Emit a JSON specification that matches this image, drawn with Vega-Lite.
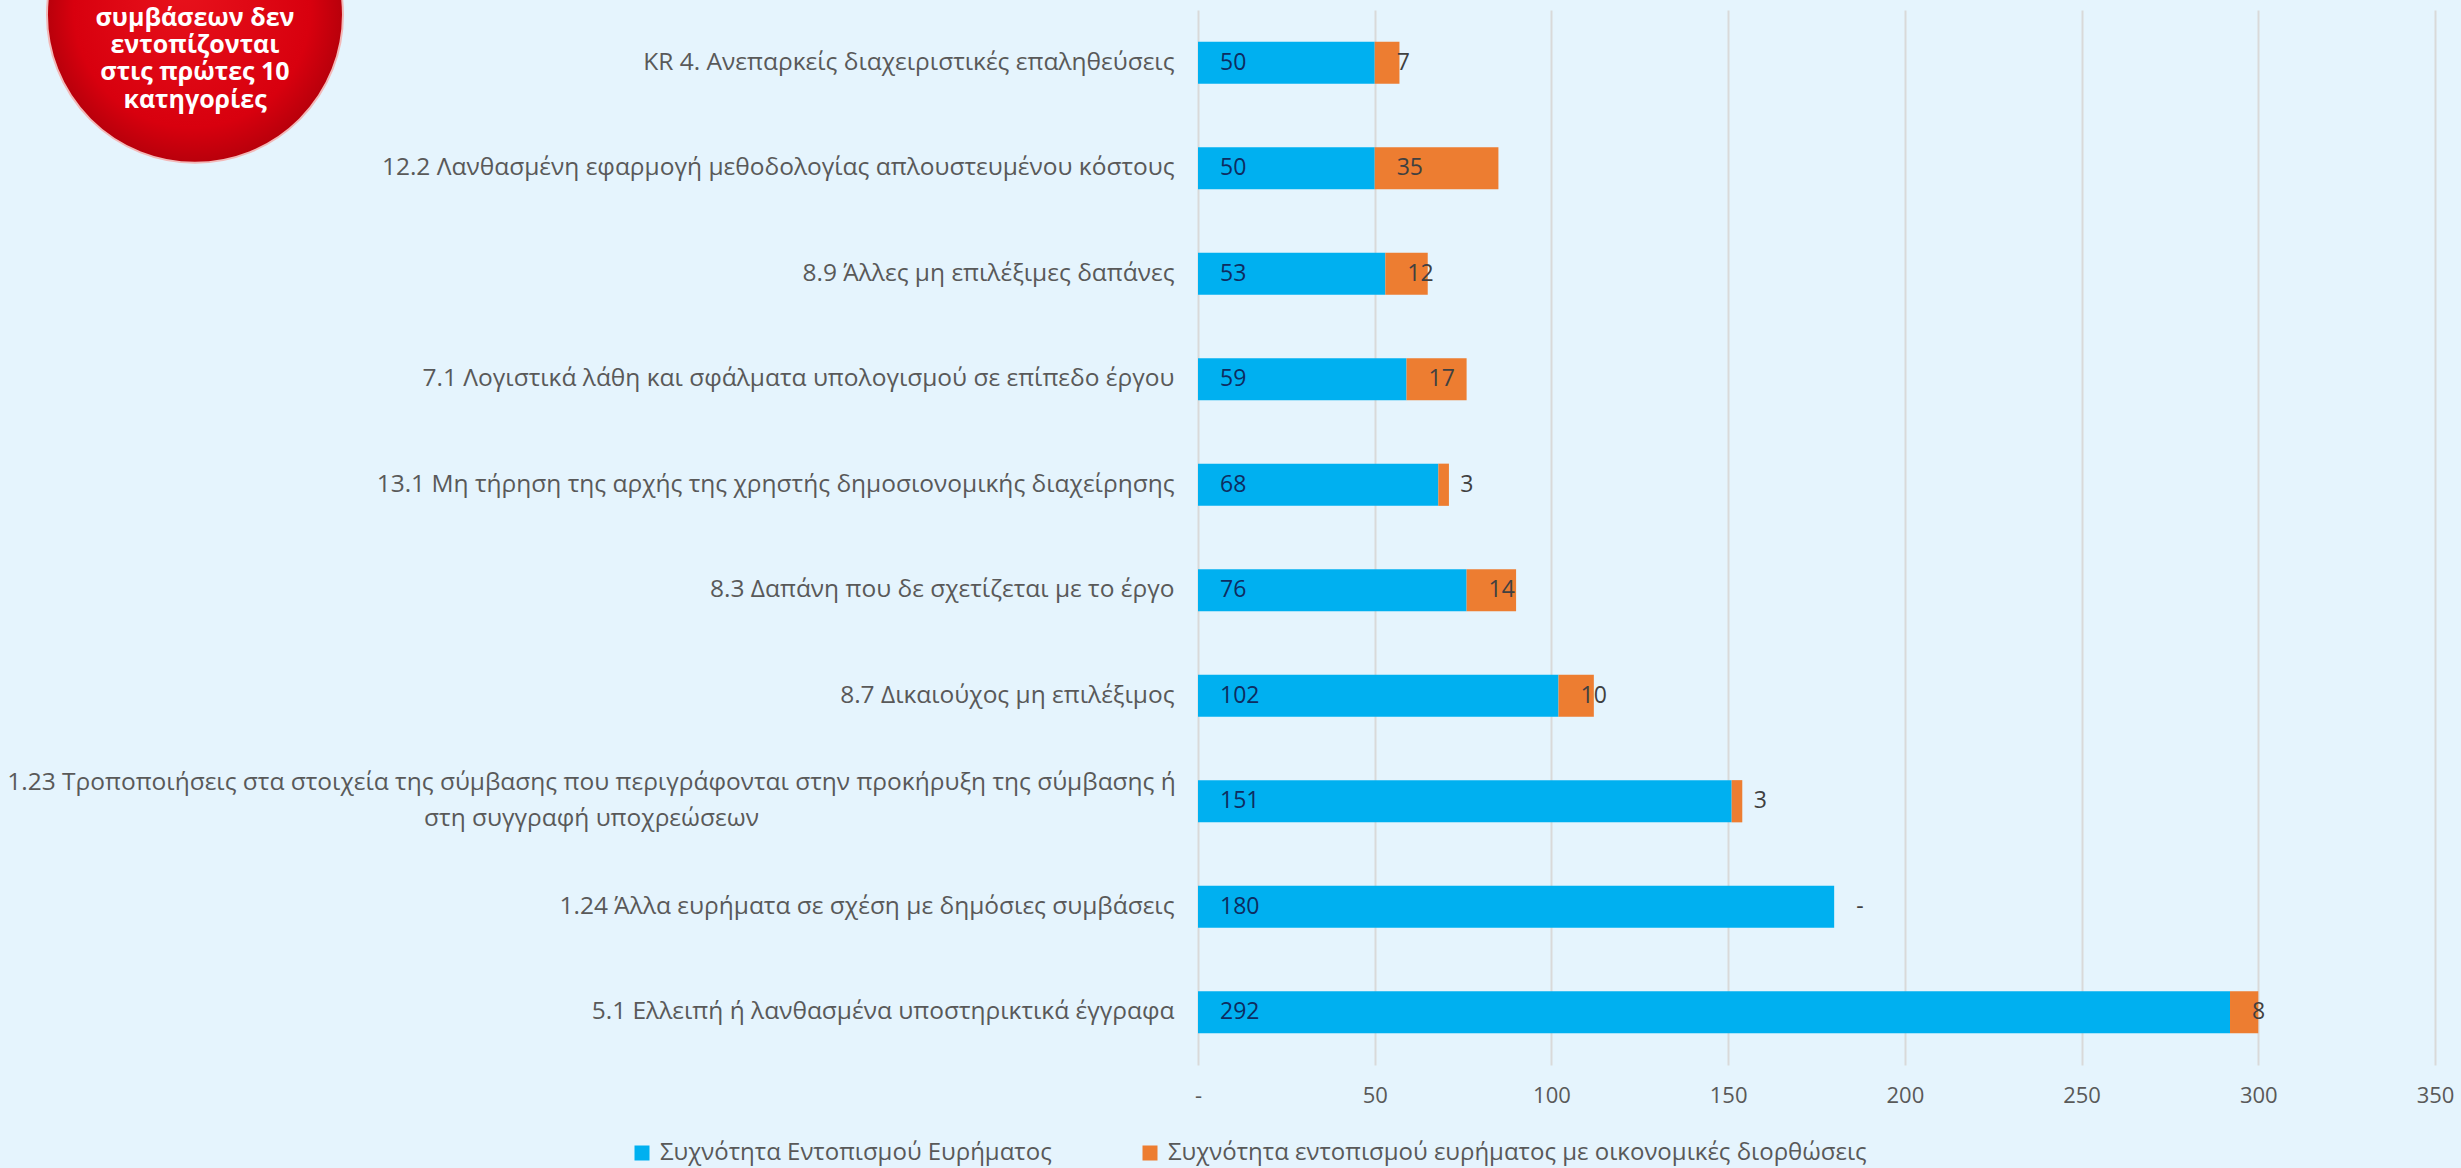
{
  "$schema": "https://vega.github.io/schema/vega-lite/v6.json",
  "width": 1237,
  "height": 1055,
  "autosize": {"type": "none"},
  "padding": {"left": 1198, "top": 10, "right": 26, "bottom": 103},
  "background": "#e5f4fd",
  "config": {"view": {"stroke": null}, "font": "Open Sans"},
  "layer": [
    {
      "data": {"values": [{}]},
      "mark": {
        "type": "point", "shape": "circle", "size": 87616, "filled": true, "opacity": 1,
        "fill": {"gradient": "radial", "x1": 0.45, "y1": 0.4, "x2": 0.5, "y2": 0.5, "r1": 0, "r2": 0.5,
          "stops": [{"offset": 0, "color": "#e8121c"}, {"offset": 0.8, "color": "#d8000e"}, {"offset": 1, "color": "#b8000b"}]},
        "stroke": "#f2b8b8", "strokeWidth": 2, "yOffset": -48
      },
      "encoding": {
        "x": {"datum": -283.8, "type": "quantitative"},
        "y": {"datum": "KR 4. Ανεπαρκείς διαχειριστικές επαληθεύσεις", "type": "nominal"}
      }
    },
    {
      "data": {"values": [{}]},
      "mark": {
        "type": "text", "text": ["συμβάσεων δεν", "εντοπίζονται", "στις πρώτες 10", "κατηγορίες"],
        "font": "Open Sans", "fontWeight": "bold", "fontSize": 25, "lineHeight": 27.3,
        "fill": "#ffffff", "align": "center", "baseline": "middle", "yOffset": -45
      },
      "encoding": {
        "x": {"datum": -283.8, "type": "quantitative"},
        "y": {"datum": "KR 4. Ανεπαρκείς διαχειριστικές επαληθεύσεις", "type": "nominal"}
      }
    },
    {
      "data": {"name": "rows"},
      "transform": [{"stack": "value", "groupby": ["category"], "sort": [{"field": "series", "order": "ascending"}], "as": ["v0", "v1"]}],
      "mark": {"type": "bar"},
      "encoding": {
        "y": {
          "field": "category", "type": "nominal", "sort": null,
          "scale": {
            "domain": [
              "KR 4. Ανεπαρκείς διαχειριστικές επαληθεύσεις",
              "12.2 Λανθασμένη εφαρμογή μεθοδολογίας απλουστευμένου κόστους\u00a0",
              "8.9 Άλλες μη επιλέξιμες δαπάνες",
              "7.1 Λογιστικά λάθη και σφάλματα υπολογισμού σε επίπεδο έργου",
              "13.1 Μη τήρηση της αρχής της χρηστής δημοσιονομικής διαχείρησης",
              "8.3 Δαπάνη που δε σχετίζεται με το έργο",
              "8.7 Δικαιούχος μη επιλέξιμος",
              "1.23 Τροποποιήσεις στα στοιχεία της σύμβασης που περιγράφονται στην προκήρυξη της σύμβασης ή|στη συγγραφή υποχρεώσεων",
              "1.24 Άλλα ευρήματα σε σχέση με δημόσιες συμβάσεις\u00a0",
              "5.1 Ελλειπή ή λανθασμένα υποστηρικτικά έγγραφα"
            ],
            "paddingInner": 0.6, "paddingOuter": 0.3
          },
          "axis": {
            "title": null, "domain": false, "ticks": false, "grid": false,
            "labelFontSize": 24.5, "labelColor": "#595959", "labelFont": "Open Sans",
            "labelLimit": 0, "labelLineHeight": 36,
            "labelExpr": "split(datum.label, '|')",
            "labelAlign": {"condition": {"test": "indexof(datum.value, '|') >= 0", "value": "center"}, "value": "right"},
            "labelPadding": {"condition": {"test": "indexof(datum.value, '|') >= 0", "value": 607}, "value": 24},
            "labelOffset": {"condition": {"test": "indexof(datum.value, '|') >= 0", "value": -18}, "value": 0}
          }
        },
        "x": {
          "field": "v0", "type": "quantitative",
          "scale": {"domain": [0, 350], "nice": false},
          "axis": {
            "title": null, "values": [0, 50, 100, 150, 200, 250, 300, 350],
            "labelExpr": "datum.value === 0 ? '-' : datum.label",
            "grid": true, "gridColor": "#d9d9d9", "gridWidth": 2,
            "domain": false, "ticks": false, "labelFlush": false,
            "labelPadding": 20, "labelFontSize": 22, "labelColor": "#595959", "labelFont": "Open Sans"
          }
        },
        "x2": {"field": "v1"},
        "color": {
          "field": "series", "type": "nominal",
          "scale": {
            "domain": ["Συχνότητα Εντοπισμού Ευρήματος", "Συχνότητα εντοπισμού ευρήματος με οικονομικές διορθώσεις"],
            "range": ["#00b0f0", "#ed7d31"]
          },
          "legend": {
            "title": null, "orient": "none", "legendX": -568, "legendY": 1131, "direction": "horizontal",
            "symbolType": "square", "symbolSize": 225, "symbolStrokeWidth": 0,
            "labelFontSize": 24, "labelColor": "#595959", "labelFont": "Open Sans", "labelLimit": 0,
            "columnPadding": 86, "labelOffset": 6, "padding": 0
          }
        }
      }
    },
    {
      "data": {"name": "rows"},
      "transform": [{"stack": "value", "groupby": ["category"], "sort": [{"field": "series", "order": "ascending"}], "as": ["v0", "v1"]}],
      "mark": {"type": "text", "align": "left", "baseline": "middle", "dx": 22, "fontSize": 23, "font": "Open Sans"},
      "encoding": {
        "y": {"field": "category", "type": "nominal", "sort": null},
        "x": {"field": "v0", "type": "quantitative"},
        "text": {"condition": {"test": "datum.value === 0", "value": "-"}, "field": "value", "type": "quantitative"},
        "color": {"condition": {"test": "datum.series === 'Συχνότητα Εντοπισμού Ευρήματος'", "value": "#0e2c60"}, "value": "#404040"}
      }
    }
  ],
  "datasets": {
    "rows": [
      {"category": "KR 4. Ανεπαρκείς διαχειριστικές επαληθεύσεις", "series": "Συχνότητα Εντοπισμού Ευρήματος", "value": 50},
      {"category": "KR 4. Ανεπαρκείς διαχειριστικές επαληθεύσεις", "series": "Συχνότητα εντοπισμού ευρήματος με οικονομικές διορθώσεις", "value": 7},
      {"category": "12.2 Λανθασμένη εφαρμογή μεθοδολογίας απλουστευμένου κόστους\u00a0", "series": "Συχνότητα Εντοπισμού Ευρήματος", "value": 50},
      {"category": "12.2 Λανθασμένη εφαρμογή μεθοδολογίας απλουστευμένου κόστους\u00a0", "series": "Συχνότητα εντοπισμού ευρήματος με οικονομικές διορθώσεις", "value": 35},
      {"category": "8.9 Άλλες μη επιλέξιμες δαπάνες", "series": "Συχνότητα Εντοπισμού Ευρήματος", "value": 53},
      {"category": "8.9 Άλλες μη επιλέξιμες δαπάνες", "series": "Συχνότητα εντοπισμού ευρήματος με οικονομικές διορθώσεις", "value": 12},
      {"category": "7.1 Λογιστικά λάθη και σφάλματα υπολογισμού σε επίπεδο έργου", "series": "Συχνότητα Εντοπισμού Ευρήματος", "value": 59},
      {"category": "7.1 Λογιστικά λάθη και σφάλματα υπολογισμού σε επίπεδο έργου", "series": "Συχνότητα εντοπισμού ευρήματος με οικονομικές διορθώσεις", "value": 17},
      {"category": "13.1 Μη τήρηση της αρχής της χρηστής δημοσιονομικής διαχείρησης", "series": "Συχνότητα Εντοπισμού Ευρήματος", "value": 68},
      {"category": "13.1 Μη τήρηση της αρχής της χρηστής δημοσιονομικής διαχείρησης", "series": "Συχνότητα εντοπισμού ευρήματος με οικονομικές διορθώσεις", "value": 3},
      {"category": "8.3 Δαπάνη που δε σχετίζεται με το έργο", "series": "Συχνότητα Εντοπισμού Ευρήματος", "value": 76},
      {"category": "8.3 Δαπάνη που δε σχετίζεται με το έργο", "series": "Συχνότητα εντοπισμού ευρήματος με οικονομικές διορθώσεις", "value": 14},
      {"category": "8.7 Δικαιούχος μη επιλέξιμος", "series": "Συχνότητα Εντοπισμού Ευρήματος", "value": 102},
      {"category": "8.7 Δικαιούχος μη επιλέξιμος", "series": "Συχνότητα εντοπισμού ευρήματος με οικονομικές διορθώσεις", "value": 10},
      {"category": "1.23 Τροποποιήσεις στα στοιχεία της σύμβασης που περιγράφονται στην προκήρυξη της σύμβασης ή|στη συγγραφή υποχρεώσεων", "series": "Συχνότητα Εντοπισμού Ευρήματος", "value": 151},
      {"category": "1.23 Τροποποιήσεις στα στοιχεία της σύμβασης που περιγράφονται στην προκήρυξη της σύμβασης ή|στη συγγραφή υποχρεώσεων", "series": "Συχνότητα εντοπισμού ευρήματος με οικονομικές διορθώσεις", "value": 3},
      {"category": "1.24 Άλλα ευρήματα σε σχέση με δημόσιες συμβάσεις\u00a0", "series": "Συχνότητα Εντοπισμού Ευρήματος", "value": 180},
      {"category": "1.24 Άλλα ευρήματα σε σχέση με δημόσιες συμβάσεις\u00a0", "series": "Συχνότητα εντοπισμού ευρήματος με οικονομικές διορθώσεις", "value": 0},
      {"category": "5.1 Ελλειπή ή λανθασμένα υποστηρικτικά έγγραφα", "series": "Συχνότητα Εντοπισμού Ευρήματος", "value": 292},
      {"category": "5.1 Ελλειπή ή λανθασμένα υποστηρικτικά έγγραφα", "series": "Συχνότητα εντοπισμού ευρήματος με οικονομικές διορθώσεις", "value": 8}
    ]
  }
}
